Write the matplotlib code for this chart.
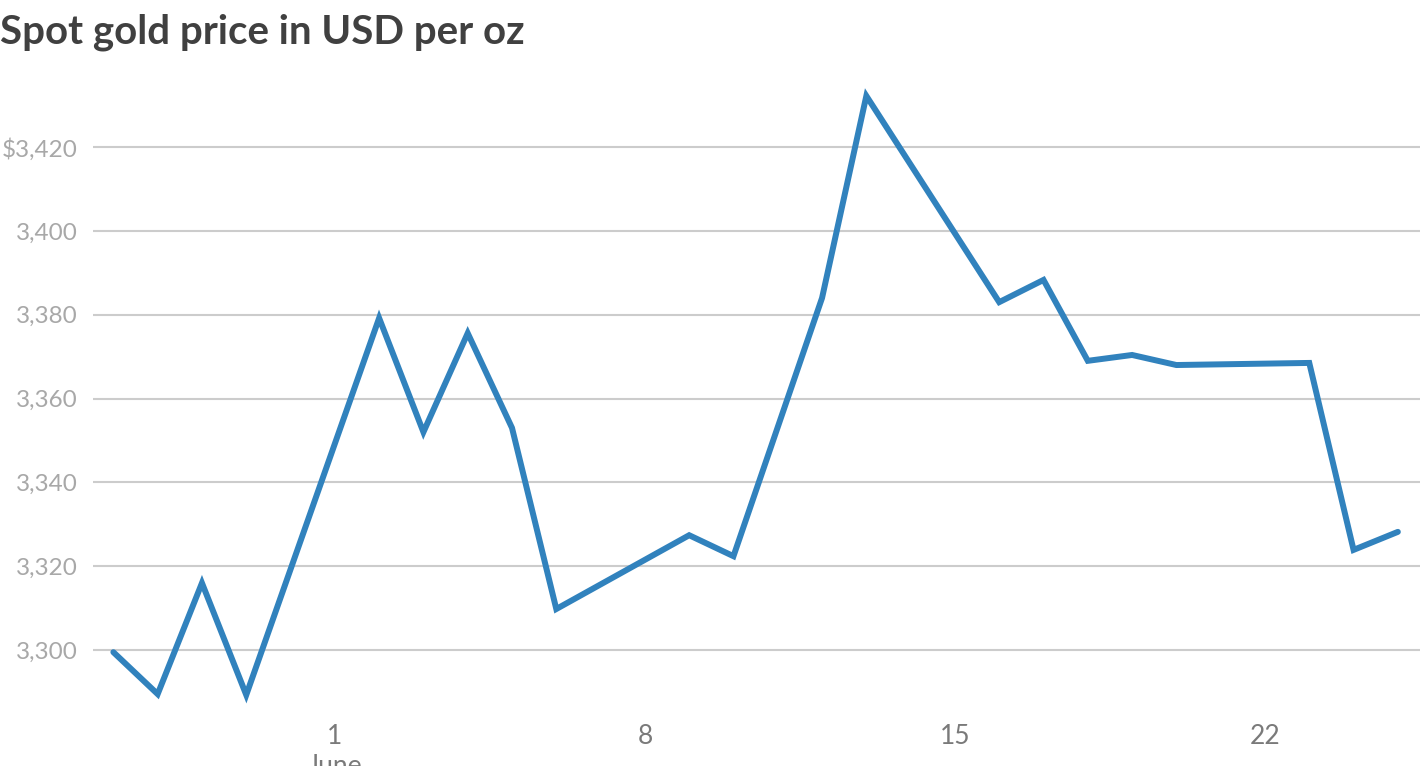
import matplotlib
matplotlib.use('Agg')
import matplotlib.pyplot as plt
from matplotlib.ticker import FuncFormatter
import pandas as pd

# Spot gold price, USD per oz
dates = ['2025-05-27', '2025-05-28', '2025-05-29', '2025-05-30',
         '2025-06-02', '2025-06-03', '2025-06-04', '2025-06-05', '2025-06-06',
         '2025-06-09', '2025-06-10', '2025-06-11', '2025-06-12', '2025-06-13',
         '2025-06-16', '2025-06-17', '2025-06-18', '2025-06-19', '2025-06-20',
         '2025-06-23', '2025-06-24', '2025-06-25']
prices = [3299.5, 3289.5, 3316.0, 3289.3,
          3379.2, 3352.0, 3375.6, 3353.0, 3309.8,
          3327.4, 3322.4, 3353.2, 3384.0, 3432.2,
          3383.0, 3388.3, 3369.0, 3370.4, 3368.0,
          3368.5, 3323.9, 3328.2]

y_ticks = [3300, 3320, 3340, 3360, 3380, 3400, 3420]
x_ticks = ['2025-06-01', '2025-06-08', '2025-06-15', '2025-06-22']
x_labels = ['1\nJune', '8', '15', '22']

plt.rcParams['font.family'] = ['Lato', 'DejaVu Sans']

x = pd.to_datetime(dates)

fig = plt.figure(figsize=(14.2, 7.66), dpi=100)
ax = fig.add_axes([93 / 1420, 61 / 766, 1 - 93 / 1420, 620 / 766])

ax.plot(x, prices, color='#3182bd', linewidth=4.3, solid_joinstyle='miter',
        solid_capstyle='round', zorder=3)

ax.set_xlim(pd.Timestamp('2025-06-01') - pd.Timedelta(days=5.46),
            pd.Timestamp('2025-06-01') + pd.Timedelta(days=24.5))
ax.set_ylim(3286.9, 3434.8)

ax.set_yticks(y_ticks)
top = max(y_ticks)
ax.yaxis.set_major_formatter(FuncFormatter(
    lambda v, p: ('$' if v == top else '') + f'{v:,.0f}'))
ax.set_xticks(pd.to_datetime(x_ticks))
ax.set_xticklabels(x_labels)

ax.tick_params(axis='y', length=0, pad=11, labelsize=17.5, labelcolor='#a8a8a8')
ax.tick_params(axis='x', length=0, pad=14, labelsize=19, labelcolor='#7a7a7a')
for lbl in ax.get_xticklabels():
    lbl.set_linespacing(1.25)
    lbl.set_verticalalignment('top')

ax.grid(axis='y', color='#cccccc', linewidth=1.5)
ax.set_axisbelow(True)
for s in ax.spines.values():
    s.set_visible(False)

fig.text(0.0, 1 - 32 / 766, 'Spot gold price in USD per oz', fontsize=29,
         fontweight='bold', color='#404040', ha='left', va='center')

fig.savefig('out.png', dpi=100)
